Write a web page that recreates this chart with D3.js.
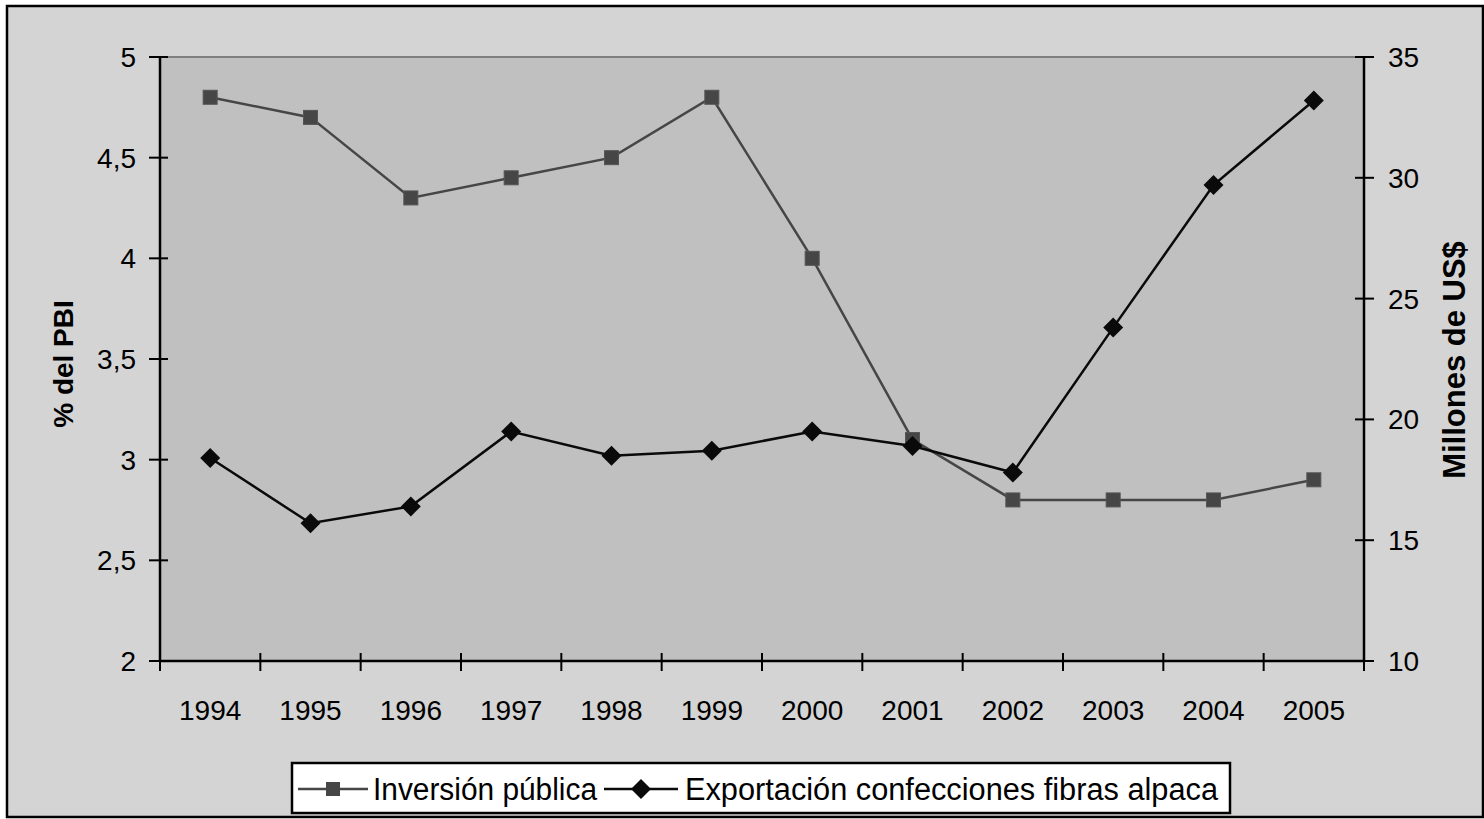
<!DOCTYPE html>
<html><head><meta charset="utf-8">
<script src="https://cdn.jsdelivr.net/npm/d3@7"></script>
<style>
body{margin:0;background:#fff;}
svg{display:block;font-family:"Liberation Sans",Arial,sans-serif;}
</style></head><body>
<svg id="chart" width="1484" height="819"></svg>
<script>
const years = ["1994","1995","1996","1997","1998","1999","2000","2001","2002","2003","2004","2005"];
const inversion = [4.8,4.7,4.3,4.4,4.5,4.8,4.0,3.1,2.8,2.8,2.8,2.9];
const exportacion = [18.4,15.7,16.4,19.5,18.5,18.7,19.5,18.9,17.8,23.8,29.7,33.2];
const leftTicks = [2,2.5,3,3.5,4,4.5,5];
const rightTicks = [10,15,20,25,30,35];
const seriesNames = ["Inversión pública","Exportación confecciones fibras alpaca"];

const svg = d3.select("#chart");
const L=160, R=1364, T=57, B=661;
const fmt = d => String(d).replace(".", ",");

svg.append("rect").attr("x",0).attr("y",0).attr("width",1484).attr("height",819).attr("fill","#fff");
svg.append("rect").attr("x",7).attr("y",6).attr("width",1476).attr("height",811)
  .attr("fill","#d4d4d4").attr("stroke","#000").attr("stroke-width",2.5);

const x = d3.scaleBand().domain(years).range([L,R]);
const yL = d3.scaleLinear().domain([2,5]).range([B,T]);
const yR = d3.scaleLinear().domain([10,35]).range([B,T]);

svg.append("rect").attr("x",L).attr("y",T).attr("width",R-L).attr("height",B-T).attr("fill","#c0c0c0");
svg.append("line").attr("x1",L).attr("x2",R).attr("y1",T).attr("y2",T).attr("stroke","#808080").attr("stroke-width",2);

const fs = 28;
// left axis
const gl = svg.append("g");
gl.append("line").attr("x1",L).attr("x2",L).attr("y1",T).attr("y2",B).attr("stroke","#000").attr("stroke-width",2.5);
leftTicks.forEach(t=>{
  gl.append("line").attr("x1",L-11).attr("x2",L+8).attr("y1",yL(t)).attr("y2",yL(t)).attr("stroke","#000").attr("stroke-width",2);
  gl.append("text").attr("x",L-24).attr("y",yL(t)).attr("dy","0.36em").attr("text-anchor","end")
    .attr("font-size",fs).attr("fill","#000").text(fmt(t));
});
// right axis
const gr = svg.append("g");
gr.append("line").attr("x1",R).attr("x2",R).attr("y1",T).attr("y2",B).attr("stroke","#000").attr("stroke-width",2.5);
rightTicks.forEach(t=>{
  gr.append("line").attr("x1",R-9).attr("x2",R+10).attr("y1",yR(t)).attr("y2",yR(t)).attr("stroke","#000").attr("stroke-width",2);
  gr.append("text").attr("x",R+24).attr("y",yR(t)).attr("dy","0.36em").attr("text-anchor","start")
    .attr("font-size",fs).attr("fill","#000").text(t);
});
// bottom axis
const gb = svg.append("g");
gb.append("line").attr("x1",L).attr("x2",R).attr("y1",B).attr("y2",B).attr("stroke","#000").attr("stroke-width",2.5);
const edges = years.map(y=>x(y)).concat([R]);
edges.forEach(e=>{
  gb.append("line").attr("x1",e).attr("x2",e).attr("y1",B-8).attr("y2",B+10).attr("stroke","#000").attr("stroke-width",2);
});
years.forEach(y=>{
  gb.append("text").attr("x",x(y)+x.bandwidth()/2).attr("y",720).attr("text-anchor","middle")
    .attr("font-size",fs).attr("fill","#000").text(y);
});

// axis titles
svg.append("text").attr("transform","translate(73,364) rotate(-90)").attr("text-anchor","middle")
  .attr("font-size",fs).attr("font-weight","bold").text("% del PBI");
svg.append("text").attr("transform","translate(1465,360) rotate(-90)").attr("text-anchor","middle")
  .attr("font-size",31).attr("font-weight","bold").text("Millones de US$");

const cx = d => x(d)+x.bandwidth()/2;
// series 1
const lineL = d3.line().x((d,i)=>cx(years[i])).y(d=>yL(d));
svg.append("path").attr("d",lineL(inversion)).attr("fill","none").attr("stroke","#464646").attr("stroke-width",2.5);
svg.selectAll(".sq").data(inversion).enter().append("rect")
  .attr("x",(d,i)=>cx(years[i])-7).attr("y",d=>yL(d)-7).attr("width",14).attr("height",14)
  .attr("fill","#464646").attr("stroke","#555").attr("stroke-width",1);
// series 2
const lineR = d3.line().x((d,i)=>cx(years[i])).y(d=>yR(d));
svg.append("path").attr("d",lineR(exportacion)).attr("fill","none").attr("stroke","#0a0a0a").attr("stroke-width",2.5);
const diamond = d3.symbol().type(d3.symbolSquare).size(200);
svg.selectAll(".dm").data(exportacion).enter().append("path")
  .attr("d",diamond)
  .attr("transform",(d,i)=>`translate(${cx(years[i])},${yR(d)}) rotate(45)`)
  .attr("fill","#0a0a0a");

// legend
const lg = svg.append("g");
lg.append("rect").attr("x",292).attr("y",763).attr("width",938).attr("height",50)
  .attr("fill","#fff").attr("stroke","#000").attr("stroke-width",2.5);
const ly = 789;
lg.append("line").attr("x1",298).attr("x2",368).attr("y1",ly).attr("y2",ly).attr("stroke","#464646").attr("stroke-width",2.5);
lg.append("rect").attr("x",326).attr("y",ly-7).attr("width",14).attr("height",14).attr("fill","#464646");
lg.append("text").attr("x",373).attr("y",ly).attr("dy","0.36em").attr("font-size",31)
  .attr("textLength",224).attr("lengthAdjust","spacingAndGlyphs").text(seriesNames[0]);
lg.append("line").attr("x1",604).attr("x2",678).attr("y1",ly).attr("y2",ly).attr("stroke","#0a0a0a").attr("stroke-width",2.5);
lg.append("path").attr("d",diamond).attr("transform",`translate(641,${ly}) rotate(45)`).attr("fill","#0a0a0a");
lg.append("text").attr("x",685).attr("y",ly).attr("dy","0.36em").attr("font-size",31)
  .attr("textLength",533).attr("lengthAdjust","spacingAndGlyphs").text(seriesNames[1]);
</script>
</body></html>
